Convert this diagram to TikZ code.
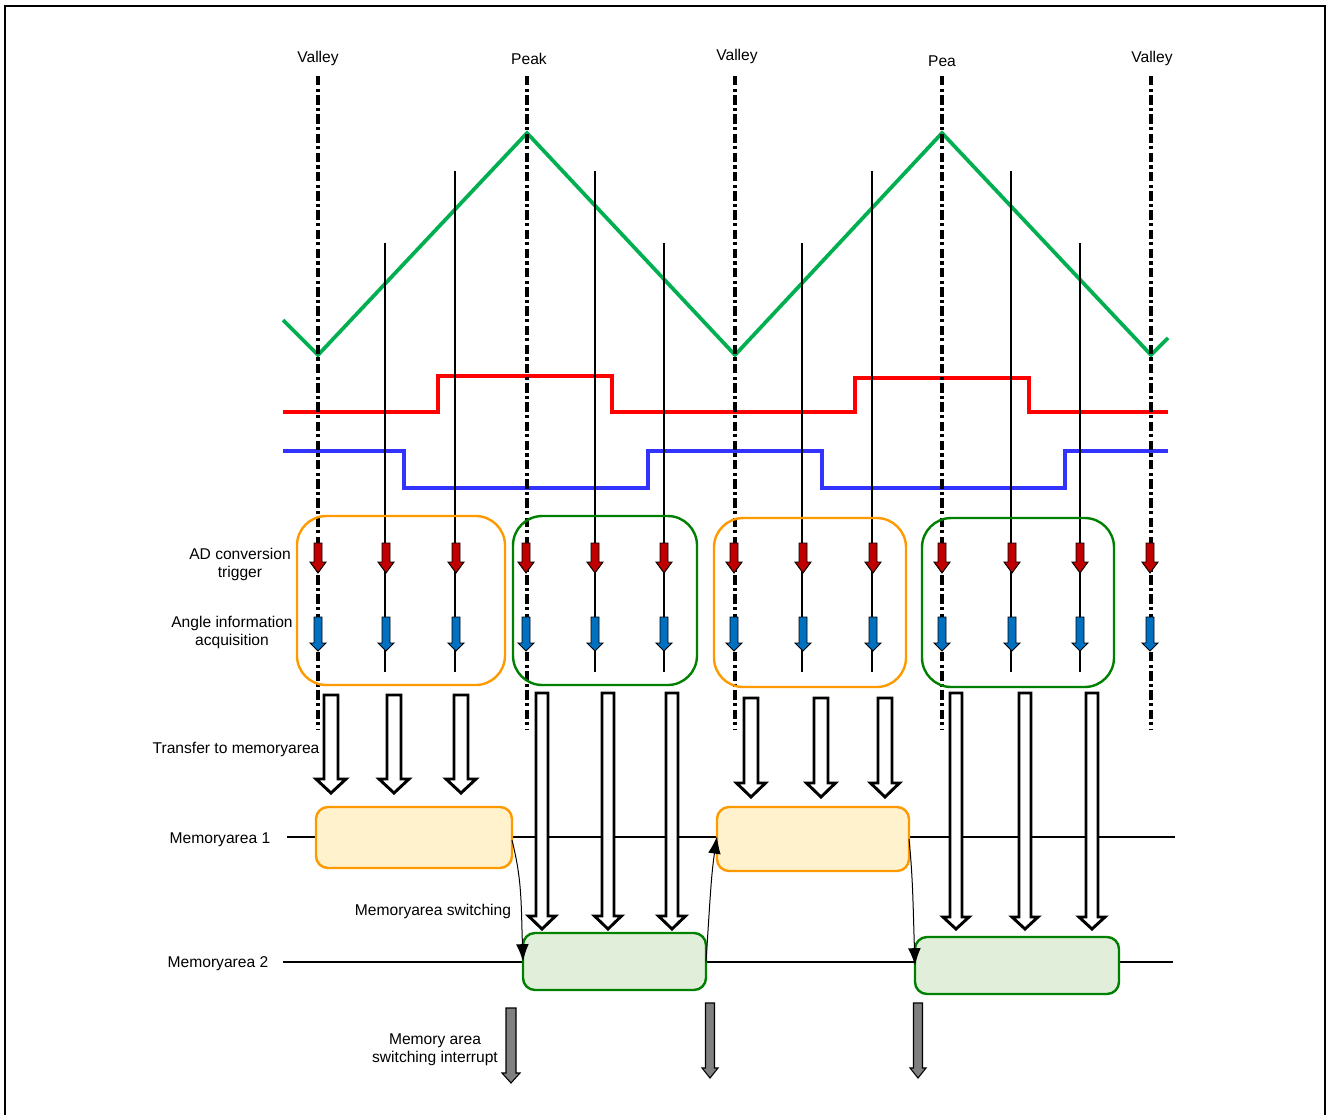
\documentclass[tikz,border=0pt]{standalone}
\usepackage{fontspec}
\setmainfont{Liberation Sans}
\usetikzlibrary{arrows.meta}
\definecolor{wgreen}{RGB}{0,176,80}
\definecolor{wred}{RGB}{255,0,0}
\definecolor{wblue}{RGB}{51,51,255}
\definecolor{grporange}{RGB}{255,153,0}
\definecolor{grpgreen}{RGB}{0,128,0}
\definecolor{memfillA}{RGB}{255,242,204}
\definecolor{memfillB}{RGB}{225,239,218}
\definecolor{trigred}{RGB}{192,0,0}
\definecolor{acqblue}{RGB}{0,112,192}
\definecolor{intgray}{RGB}{128,128,128}
\newcommand{\myblkarrow}[7]{%
  \draw[#1] ({#2-#5},#3) -- ({#2+#5},#3) -- ({#2+#5},{#4-#7}) -- ({#2+#6},{#4-#7})
    -- (#2,#4) -- ({#2-#6},{#4-#7}) -- ({#2-#5},{#4-#7}) -- cycle;}
\begin{document}
\begin{tikzpicture}[x=0.75pt,y=-0.75pt,
  lbl/.style={font=\fontsize{11.7}{13.5}\selectfont, inner sep=0pt, align=center},
  ddline/.style={line width=2.6pt, dash pattern=on 7pt off 2.5pt on 2.4pt off 2.5pt},
  trigline/.style={line width=2pt},
  wave/.style={line width=2.8pt, line join=miter},
  grp/.style={rounded corners=22pt, line width=1.8pt, inner sep=0pt, outer sep=0pt, minimum height=126.75pt},
  membox/.style={rounded corners=9pt, line width=1.8pt, inner sep=0pt, outer sep=0pt},
  memline/.style={line width=1.9pt},
  xfer/.style={draw=black, fill=white, line width=2.2pt, line join=miter},
  trig/.style={draw=black, fill=trigred, line width=0.7pt},
  acq/.style={draw=black, fill=acqblue, line width=0.7pt},
  intr/.style={draw=black, fill=intgray, line width=0.8pt},
  switchcurve/.style={line width=0.75pt, -{Latex[length=13pt,width=9.5pt]}}]
\useasboundingbox (0,0) rectangle (1328,1115);
% frame
\draw[line width=2pt] (5,1115) -- (5,6) -- (1325,6) -- (1325,1115);
% top labels
\node[lbl] (v1) at (318,58) {Valley};
\node[lbl] (p1) at (529,59) {Peak};
\node[lbl] (v2) at (737,56) {Valley};
\node[lbl] (p2) at (942,61) {Pea};
\node[lbl] (v3) at (1152,58) {Valley};
% waveforms
\draw[wave, wgreen] (283,320) -- (318,355) -- (527,133) -- (735,355) -- (942,133) -- (1151,355) -- (1168,338);
\draw[wave, wred] (283,412) -- (438,412) -- (438,376) -- (612,376) -- (612,412) -- (855,412) -- (855,378) -- (1029,378) -- (1029,412) -- (1168,412);
\draw[wave, wblue] (283,451) -- (404,451) -- (404,488) -- (648,488) -- (648,451) -- (822,451) -- (822,488) -- (1065,488) -- (1065,451) -- (1168,451);
% dash-dot timing lines
\foreach \x in {318,527,735,942,1151} {\draw[ddline] (\x,76) -- (\x,730);}
% trigger lines
\foreach \x in {385,664,802,1080} {\draw[trigline] (\x,243) -- (\x,672);}
\foreach \x in {455,595,872,1011} {\draw[trigline] (\x,171) -- (\x,672);}
% group boxes
\node[grp, draw=grporange, minimum width=156pt] (g1) at (401,600.5) {};
\node[grp, draw=grpgreen, minimum width=138pt] (g2) at (605,600.5) {};
\node[grp, draw=grporange, minimum width=144pt] (g3) at (810,602.5) {};
\node[grp, draw=grpgreen, minimum width=144pt] (g4) at (1018,602.5) {};
% small arrows
\foreach \x in {318,386,456,526,595,664,734,803,873,942,1012,1080,1150} {
  \myblkarrow{trig}{\x}{543}{573}{4}{8}{11}
  \myblkarrow{acq}{\x}{617}{651}{4}{8}{8}
}
\node[lbl] (adc) at (240,564) {AD conversion\\trigger};
\node[lbl] (ang) at (232,632) {Angle information\\acquisition};
% memory lines
\draw[memline] (287,837) -- (1175,837);
\draw[memline] (283,962) -- (1173,962);
% transfer arrows
\foreach \x in {331,394,461} {\myblkarrow{xfer}{\x}{695}{793}{7}{15}{14}}
\foreach \x in {542,608,672} {\myblkarrow{xfer}{\x}{693}{929}{6}{13.5}{13}}
\foreach \x in {751,821,885} {\myblkarrow{xfer}{\x}{698}{797}{7}{14.5}{14}}
\foreach \x in {956,1025,1092} {\myblkarrow{xfer}{\x}{693}{929}{6}{13}{12}}
\node[lbl] (xfr) at (236,749) {Transfer to memoryarea};
% memory boxes
\node[membox, draw=grporange, fill=memfillA, minimum width=147pt, minimum height=45.75pt] (m1) at (414,837.5) {};
\node[membox, draw=grpgreen, fill=memfillB, minimum width=137.25pt, minimum height=42.75pt] (m2) at (614.5,961.5) {};
\node[membox, draw=grporange, fill=memfillA, minimum width=144pt, minimum height=48pt] (m3) at (813,839) {};
\node[membox, draw=grpgreen, fill=memfillB, minimum width=153pt, minimum height=42.75pt] (m4) at (1017,965.5) {};
\node[lbl] (ma1) at (220,840) {Memoryarea 1};
\node[lbl] (ma2) at (218,964) {Memoryarea 2};
% switching curves
\draw[switchcurve] ([yshift=-2pt]m1.east) .. controls +(10,40) and +(-2,-60) .. (m2.west);
\draw[switchcurve] (m2.east) .. controls +(4,-60) and +(-6,40) .. ([yshift=2pt]m3.west);
\draw[switchcurve] (m3.east) .. controls +(4,40) and +(-2,-60) .. (m4.west);
\node[lbl] (msw) at (433,911) {Memoryarea switching};
% interrupt arrows
\myblkarrow{intr}{511}{1008}{1083}{5}{9}{10}
\myblkarrow{intr}{710}{1003}{1078}{4.5}{8}{10}
\myblkarrow{intr}{918}{1003}{1078}{4.5}{8}{10}
\node[lbl] (msi) at (435,1050) {Memory area\\switching interrupt};
\end{tikzpicture}
\end{document}
